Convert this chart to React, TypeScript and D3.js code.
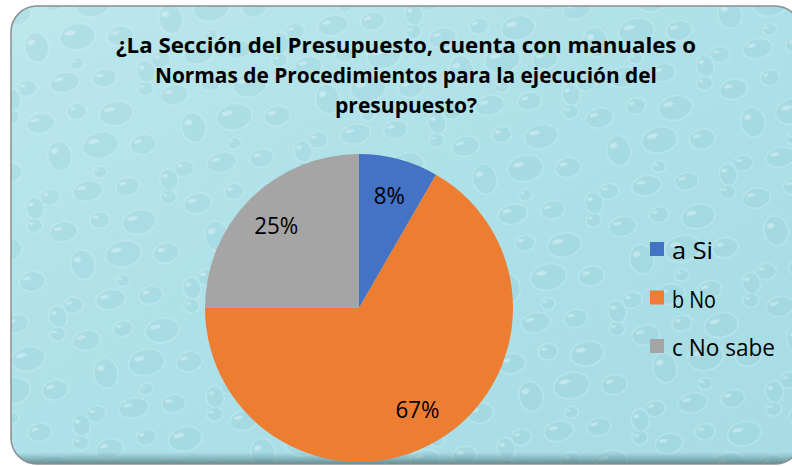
import React, { useEffect, useRef } from 'react'
import * as d3 from 'd3'

const categories = ['a Si', 'b No', 'c No sabe']
const values = [1, 8, 3]
const labels = ['8%', '67%', '25%']
const colors = ['#4472c4', '#ed7d31', '#a5a5a5']
const titleLines = [
  '¿La Sección del Presupuesto, cuenta con manuales o',
  'Normas de Procedimientos para la ejecución del',
  'presupuesto?',
]
// drops in one texture tile: [x, y, rx, ry]
const drops = [
  [14, 18, 14, 10], [52, 14, 10, 8], [90, 24, 17, 12], [124, 6, 8, 7],
  [26, 54, 12, 15], [68, 52, 18, 13], [110, 60, 13, 10], [8, 92, 10, 8],
  [46, 94, 15, 10], [86, 98, 12, 9], [128, 100, 9, 11], [62, 78, 7, 6],
]

const W = 792
const H = 466
const FONT = '"Open Sans", Lato, sans-serif'

const PieChart = () => {
  const ref = useRef<SVGSVGElement>(null)

  useEffect(() => {
    const svg = d3.select(ref.current)
    svg.selectAll('*').remove()

    const defs = svg.append('defs')
    const grad = defs.append('linearGradient').attr('id', 'bottomShade').attr('x1', 0).attr('y1', 0).attr('x2', 0).attr('y2', 1)
    grad.append('stop').attr('offset', '0%').attr('stop-color', '#5e8f96').attr('stop-opacity', 0)
    grad.append('stop').attr('offset', '100%').attr('stop-color', '#4b6e73').attr('stop-opacity', 0.9)

    const bg = defs.append('linearGradient').attr('id', 'bg').attr('x1', 0).attr('y1', 0).attr('x2', 1).attr('y2', 1)
    bg.append('stop').attr('offset', '0%').attr('stop-color', '#bce7ed')
    bg.append('stop').attr('offset', '50%').attr('stop-color', '#ade0e8')
    bg.append('stop').attr('offset', '100%').attr('stop-color', '#a7dce5')

    // repeating water texture, kept faint
    const pat = defs.append('pattern').attr('id', 'water').attr('patternUnits', 'userSpaceOnUse')
      .attr('width', 137).attr('height', 111).attr('patternTransform', 'rotate(-12)')
    drops.forEach(([x, y, rx, ry]) => {
      pat.append('ellipse').attr('cx', x).attr('cy', y).attr('rx', rx).attr('ry', ry)
        .attr('fill', '#8cc6d0').attr('fill-opacity', 0.22)
        .attr('stroke', '#dff5f8').attr('stroke-width', 1.2).attr('stroke-opacity', 0.4)
      pat.append('ellipse').attr('cx', x - rx * 0.35).attr('cy', y - ry * 0.4).attr('rx', rx * 0.3).attr('ry', ry * 0.18)
        .attr('fill', '#effbfc').attr('fill-opacity', 0.4)
    })

    defs.append('clipPath').attr('id', 'frame')
      .append('rect').attr('x', 11).attr('y', 6).attr('width', 790).attr('height', 458).attr('rx', 26)

    const frame = svg.append('g').attr('clip-path', 'url(#frame)')
    frame.append('rect').attr('x', 0).attr('y', 0).attr('width', W).attr('height', H).attr('fill', 'url(#bg)')
    frame.append('rect').attr('x', 0).attr('y', 0).attr('width', W).attr('height', H).attr('fill', 'url(#water)')
    frame.append('rect').attr('x', 0).attr('y', 452).attr('width', W).attr('height', 14).attr('fill', 'url(#bottomShade)')

    svg.append('rect').attr('x', 11).attr('y', 6).attr('width', 790).attr('height', 458).attr('rx', 26)
      .attr('fill', 'none').attr('stroke', '#8a8f90').attr('stroke-width', 1.5)

    // title
    const title = svg.append('text').attr('text-anchor', 'middle')
      .attr('font-family', FONT).attr('font-weight', 'bold').attr('font-size', 21).attr('fill', '#000')
    const widths = [580, 502, 142]
    titleLines.forEach((t, i) => {
      title.append('tspan').attr('x', 406).attr('y', 53 + i * 30)
        .attr('textLength', widths[i]).attr('lengthAdjust', 'spacingAndGlyphs').text(t)
    })

    // pie
    const cx = 359
    const cy = 308
    const r = 154
    const pie = d3.pie<number>().sort(null).value((d) => d)
    const arcs = pie(values)
    const arc = d3.arc<d3.PieArcDatum<number>>().innerRadius(0).outerRadius(r)
    const labelArc = d3.arc<d3.PieArcDatum<number>>().innerRadius(117).outerRadius(117)
    const g = svg.append('g').attr('transform', `translate(${cx},${cy})`)
    g.selectAll('path').data(arcs).enter().append('path')
      .attr('d', arc).attr('fill', (d, i) => colors[i])
    g.selectAll('text').data(arcs).enter().append('text')
      .attr('transform', (d) => `translate(${labelArc.centroid(d)})`)
      .attr('text-anchor', 'middle').attr('dominant-baseline', 'central')
      .attr('font-family', FONT).attr('font-size', 23).attr('fill', '#000')
      .attr('textLength', (d, i) => (labels[i].length === 2 ? 31 : 44)).attr('lengthAdjust', 'spacingAndGlyphs')
      .text((d, i) => labels[i])

    // legend
    const lg = svg.append('g').attr('transform', 'translate(650,242)')
    const lw = [41, 44, 103]
    categories.forEach((c, i) => {
      const row = lg.append('g').attr('transform', `translate(0,${i * 48.5})`)
      row.append('rect').attr('width', 14).attr('height', 14).attr('fill', colors[i])
      row.append('text').attr('x', 22).attr('y', 8).attr('dominant-baseline', 'central')
        .attr('font-family', FONT).attr('font-size', 23).attr('fill', '#000')
        .attr('textLength', lw[i]).attr('lengthAdjust', 'spacingAndGlyphs').text(c)
    })
  }, [])

  return <svg ref={ref} width={W} height={H} style={{ position: 'absolute', left: 0, top: 0, background: '#fff' }} />
}

export default function App() {
  return <PieChart />
}
